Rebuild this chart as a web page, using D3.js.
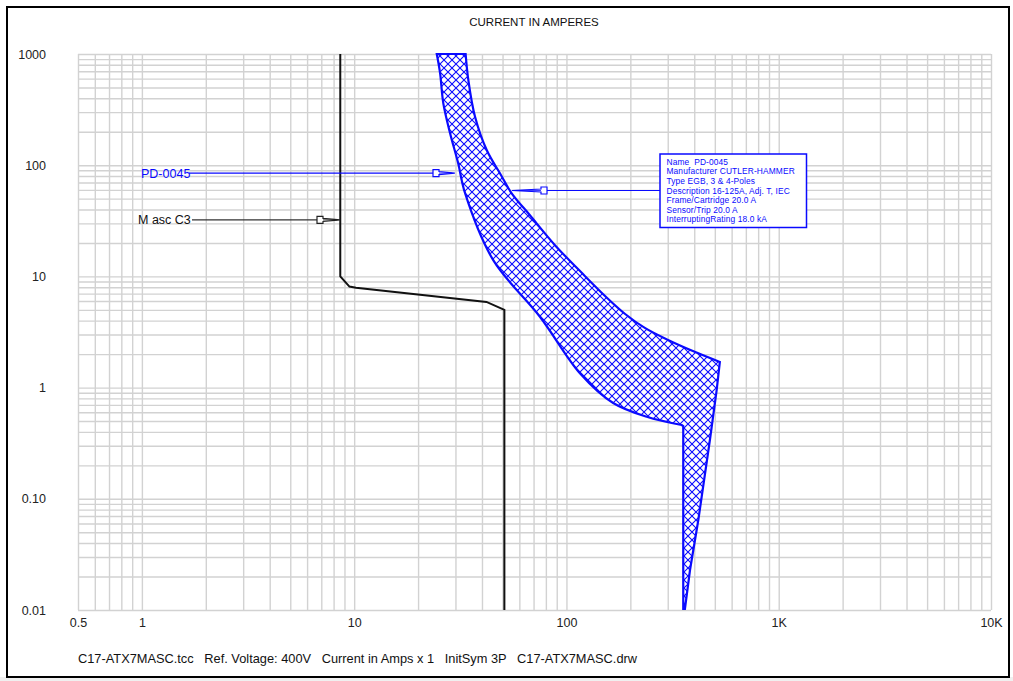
<!DOCTYPE html>
<html><head><meta charset="utf-8">
<script src="https://cdn.jsdelivr.net/npm/d3@7"></script>
<style>
html,body{margin:0;padding:0;background:#fff;}
svg{display:block;}
text{font-family:"Liberation Sans",Arial,sans-serif;}
</style></head><body>
<svg id="chart" width="1013" height="681"></svg>
<script>
// Axis ticks
const xTickValues = [0.5, 1, 10, 100, 1000, 10000];
const xTickLabels = ["0.5", "1", "10", "100", "1K", "10K"];
const yTickValues = [1000, 100, 10, 1, 0.1, 0.01];
const yTickLabels = ["1000", "100", "10", "1", "0.10", "0.01"];

// Masc C3 time-current curve (amps, seconds)
const mascCurrent = [8.6, 8.6, 9.5, 10.2, 42, 51, 51];
const mascTime    = [1000, 10, 8.1, 7.9, 5.9, 5.0, 0.01];

// PD-0045 breaker band, minimum clearing curve (smooth part, then instantaneous step)
const pdMinCurrent = [24.5, 25.4, 26.3, 28.3, 30.9, 33.3, 45.2, 75, 116, 166, 239, 349];
const pdMinTime    = [1000, 670, 360, 194, 104, 56, 14, 4.34, 1.34, 0.727, 0.547, 0.461];
const pdInstCurrent = [349, 355, 355, 361, 382, 418, 474, 510, 528];
const pdInstTime    = [0.461, 0.45, 0.01, 0.01, 0.0229, 0.0645, 0.338, 0.95, 1.7];
// maximum clearing curve, from the corner back up to the top
const pdMaxCurrent = [528, 394, 301, 234, 189, 152, 122, 88.3, 67.3, 55.2, 48.6, 42.1, 37.1, 34.5, 33.5];
const pdMaxTime    = [1.7, 2.13, 2.68, 3.44, 4.59, 6.66, 10.1, 19.1, 35.5, 55.9, 84.6, 137, 273, 583, 1000];

// Device settings box
const pdInfoLines = [
  "Name  PD-0045",
  "Manufacturer CUTLER-HAMMER",
  "Type EGB, 3 & 4-Poles",
  "Description 16-125A, Adj. T, IEC",
  "Frame/Cartridge 20.0 A",
  "Sensor/Trip 20.0 A",
  "InterruptingRating 18.0 kA"
];

const titleText = "CURRENT IN AMPERES";
const footerText = "C17-ATX7MASC.tcc   Ref. Voltage: 400V   Current in Amps x 1   InitSym 3P   C17-ATX7MASC.drw";

(function draw() {
const BLUE = "#0a0aff";
const svg = d3.select("#chart");

// outer frame and bottom strip
svg.append("rect").attr("x", 0).attr("y", 677).attr("width", 1013).attr("height", 4).attr("fill", "#f0f0f0");
svg.append("rect").attr("x", 7).attr("y", 7).attr("width", 1002).attr("height", 670)
  .attr("fill", "#fff").attr("stroke", "#000").attr("stroke-width", 2);

const pL = 78, pR = 991, pT = 54, pB = 610;
const x = d3.scaleLog().domain([0.5, 10000]).range([pL, pR]);
const y = d3.scaleLog().domain([0.01, 1000]).range([pB, pT]);

// log grid values: 1..9 in every decade inside the domain
function logGrid(lo, hi) {
  const out = [];
  for (let e = Math.floor(Math.log10(lo)); e <= Math.ceil(Math.log10(hi)); e++) {
    for (let m = 1; m <= 9; m++) {
      const v = +(m * Math.pow(10, e)).toPrecision(6);
      if (v >= lo * 0.9999 && v <= hi * 1.0001) out.push(v);
    }
  }
  return out;
}

const grid = svg.append("g");
grid.append("g").attr("transform", `translate(0,${pB})`)
  .call(d3.axisBottom(x).tickValues(logGrid(0.5, 10000)).tickSize(-(pB - pT)).tickFormat(""))
  .call(g => g.select(".domain").remove())
  .call(g => g.selectAll("line").attr("stroke", "#d2d2d2").attr("stroke-width", 1.4));
grid.append("g").attr("transform", `translate(${pL},0)`)
  .call(d3.axisLeft(y).tickValues(logGrid(0.01, 1000)).tickSize(-(pR - pL)).tickFormat(""))
  .call(g => g.select(".domain").remove())
  .call(g => g.selectAll("line").attr("stroke", "#d2d2d2").attr("stroke-width", 1.4));

// tick labels
svg.append("g").attr("transform", `translate(0,${pB})`)
  .call(d3.axisBottom(x).tickValues(xTickValues).tickSize(0).tickPadding(8)
    .tickFormat((d, i) => xTickLabels[i]))
  .call(g => g.select(".domain").remove())
  .call(g => g.selectAll("text").attr("font-size", 12.5).attr("fill", "#222")
    .attr("font-family", "'Liberation Sans', Arial, sans-serif"));
svg.append("g").attr("transform", `translate(${pL},0)`)
  .call(d3.axisLeft(y).tickValues(yTickValues).tickSize(0).tickPadding(32)
    .tickFormat((d, i) => yTickLabels[i]))
  .call(g => g.select(".domain").remove())
  .call(g => g.selectAll("text").attr("font-size", 12.5).attr("fill", "#222")
    .attr("font-family", "'Liberation Sans', Arial, sans-serif"));

// title and footer
svg.append("text").attr("x", 534).attr("y", 26).attr("text-anchor", "middle")
  .attr("font-size", 11.5).attr("fill", "#111").text(titleText);
svg.append("text").attr("x", 78).attr("y", 663)
  .attr("font-size", 12.8).attr("fill", "#111")
  .style("white-space", "pre").text(footerText);

// crosshatch fill
const defs = svg.append("defs");
const pat = defs.append("pattern").attr("id", "hatch").attr("patternUnits", "userSpaceOnUse")
  .attr("width", 8).attr("height", 8);
pat.append("rect").attr("width", 8).attr("height", 8).attr("fill", "#fff");
pat.append("path").attr("d", "M-1,-1 L9,9 M9,-1 L-1,9").attr("stroke", BLUE).attr("stroke-width", 1.1);

const clip = defs.append("clipPath").attr("id", "plotClip");
clip.append("rect").attr("x", pL).attr("y", pT - 1).attr("width", pR - pL).attr("height", pB - pT + 1);

// PD-0045 band: smooth min curve, straight instantaneous region, smooth max curve
const pts = (cs, ts) => cs.map((c, i) => [x(c), y(ts[i])]);
const smooth = d3.line().curve(d3.curveCatmullRom.alpha(0.5));
const straight = d3.line();
const join = s => s.replace(/^M/, "L");
const bandPath = smooth(pts(pdMinCurrent, pdMinTime))
  + join(straight(pts(pdInstCurrent, pdInstTime)))
  + join(smooth(pts(pdMaxCurrent, pdMaxTime))) + "Z";
svg.append("path").attr("clip-path", "url(#plotClip)")
  .attr("d", bandPath)
  .attr("fill", "url(#hatch)").attr("stroke", BLUE).attr("stroke-width", 2.2)
  .attr("stroke-linejoin", "miter");

// Masc C3 curve
svg.append("path").attr("clip-path", "url(#plotClip)")
  .attr("d", straight(pts(mascCurrent, mascTime))).attr("fill", "none")
  .attr("stroke", "#111").attr("stroke-width", 2);

// callout pointer: small box and narrow shaft ending at the tip
function pointer(x0, tipX, yy, color) {
  const dir = Math.sign(tipX - x0);
  const b = x0 + dir * 6;
  const p = [[x0, yy - 3.5], [b, yy - 3.5], [b, yy - 1.5], [tipX, yy], [b, yy + 1.5], [b, yy + 3.5], [x0, yy + 3.5]];
  svg.append("path").attr("d", straight(p) + "Z")
    .attr("fill", "#fff").attr("stroke", color).attr("stroke-width", 1.2);
  svg.append("line").attr("x1", b).attr("x2", tipX - dir * 3).attr("y1", yy).attr("y2", yy)
    .attr("stroke", color).attr("stroke-width", 0.8);
}

// PD-0045 label
const pdY = y(85);
svg.append("text").attr("x", 141).attr("y", pdY + 4.5).attr("font-size", 12.5)
  .attr("fill", BLUE).text("PD-0045");
svg.append("line").attr("x1", 189).attr("x2", 433).attr("y1", pdY).attr("y2", pdY)
  .attr("stroke", BLUE).attr("stroke-width", 1.2);
pointer(433, x(29.8), pdY, BLUE);

// Masc C3 label
const mY = y(32.2);
svg.append("text").attr("x", 138).attr("y", mY + 4.5).attr("font-size", 12.5)
  .attr("fill", "#111").style("white-space", "pre").text("M asc C3");
svg.append("line").attr("x1", 192).attr("x2", 317).attr("y1", mY).attr("y2", mY)
  .attr("stroke", "#333").attr("stroke-width", 1.2);
pointer(317, x(8.6), mY, "#222");

// settings box with leader to the band
const lY = y(59.2);
svg.append("line").attr("x1", 547).attr("x2", 660).attr("y1", lY).attr("y2", lY)
  .attr("stroke", BLUE).attr("stroke-width", 1.2);
pointer(547, x(55.4), lY, BLUE);
svg.append("rect").attr("x", 660).attr("y", 154).attr("width", 146.5).attr("height", 73.5)
  .attr("fill", "#fff").attr("stroke", BLUE).attr("stroke-width", 1.5);
svg.append("g").selectAll("text").data(pdInfoLines).join("text")
  .attr("x", 666.5).attr("y", (d, i) => 164.8 + i * 9.6)
  .attr("font-size", 8.4).attr("letter-spacing", 0.12).attr("fill", BLUE)
  .style("white-space", "pre").text(d => d);
})();
</script>
</body></html>
